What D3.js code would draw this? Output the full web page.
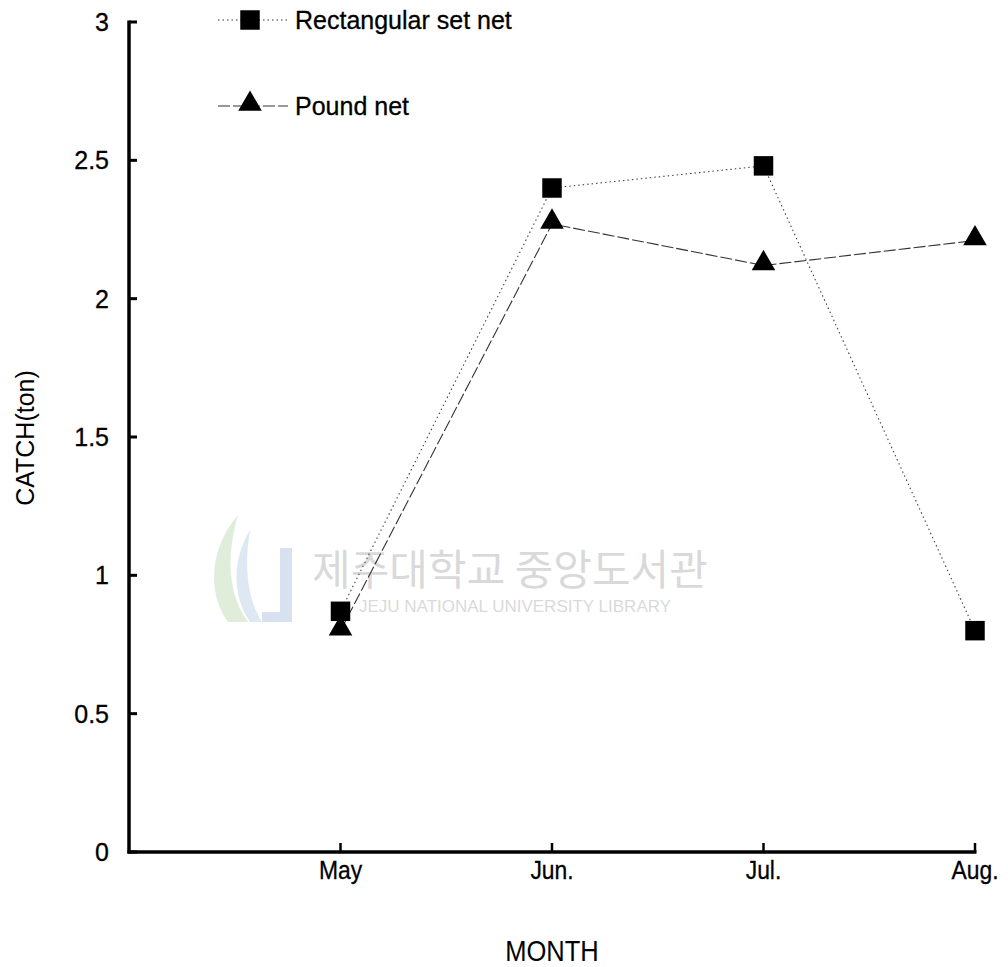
<!DOCTYPE html>
<html>
<head>
<meta charset="utf-8">
<script src="https://cdn.jsdelivr.net/npm/d3@7"></script>
<style>
  body { margin: 0; background: #fff; }
  text { font-family: "Liberation Sans", Arial, sans-serif; fill: #000; }
</style>
</head>
<body>
<script>
var months = ["May", "Jun.", "Jul.", "Aug."];
var rectangularSetNet = [0.87, 2.4, 2.48, 0.8];
var poundNet = [0.8, 2.27, 2.12, 2.21];
var yTicks = [0, 0.5, 1, 1.5, 2, 2.5, 3];

var width = 1008,
    height = 967;

var svg = d3.select("body").append("svg")
    .attr("width", width)
    .attr("height", height);

// categories sit on ticks 1..4, axis starts one step before May
var x = d3.scaleLinear().domain([0, 4]).range([129, 975]);
var y = d3.scaleLinear().domain([0, 3]).range([852, 22]);

// faint library watermark
var wm = svg.append("g").attr("opacity", 0.2);
wm.append("text")
    .attr("x", 510).attr("y", 585)
    .attr("text-anchor", "middle")
    .style("font-family", "'Noto Sans CJK KR', sans-serif")
    .style("font-size", "42px")
    .style("fill", "#444")
    .text("제주대학교 중앙도서관");
wm.append("text")
    .attr("x", 515).attr("y", 612)
    .attr("text-anchor", "middle")
    .style("font-size", "17px")
    .style("fill", "#444")
    .text("JEJU NATIONAL UNIVERSITY  LIBRARY");
wm.append("path")
    .attr("d", "M238,515 C212,545 205,590 228,622 L248,622 C225,590 228,550 238,515 Z")
    .style("fill", "#6aa84f");
wm.append("path")
    .attr("d", "M250,530 C232,560 232,595 250,622 L262,622 C245,595 245,560 250,530 Z")
    .style("fill", "#5a8fc8");
wm.append("path")
    .attr("d", "M280,548 L292,548 L292,622 L262,622 L262,612 L280,612 Z")
    .style("fill", "#3d6fb5");

// axes
svg.append("line")
    .attr("x1", x(0)).attr("x2", x(0))
    .attr("y1", y(3) - 1.5).attr("y2", y(0) + 1.5)
    .attr("stroke", "#000").attr("stroke-width", 3.5);
svg.append("line")
    .attr("x1", x(0) - 1.5).attr("x2", x(4) + 1.5)
    .attr("y1", y(0)).attr("y2", y(0))
    .attr("stroke", "#000").attr("stroke-width", 3.5);

svg.selectAll(".ytick")
    .data(yTicks)
    .enter().append("line")
    .attr("class", "ytick")
    .attr("x1", x(0)).attr("x2", x(0) + 8)
    .attr("y1", function (d) { return y(d); })
    .attr("y2", function (d) { return y(d); })
    .attr("stroke", "#000").attr("stroke-width", 3);

svg.selectAll(".ylab")
    .data(yTicks)
    .enter().append("text")
    .attr("class", "ylab")
    .attr("x", 109)
    .attr("y", function (d) { return y(d); })
    .attr("dy", "0.36em")
    .attr("text-anchor", "end")
    .style("font-size", "25px")
    .style("stroke", "#000").style("stroke-width", 0.3)
    .text(function (d) { return d; });

svg.selectAll(".xtick")
    .data(months)
    .enter().append("line")
    .attr("class", "xtick")
    .attr("x1", function (d, i) { return x(i + 1); })
    .attr("x2", function (d, i) { return x(i + 1); })
    .attr("y1", y(0)).attr("y2", y(0) - 9)
    .attr("stroke", "#000").attr("stroke-width", 2.5);

svg.selectAll(".xlab")
    .data(months)
    .enter().append("text")
    .attr("class", "xlab")
    .attr("transform", function (d, i) { return "translate(" + x(i + 1) + ",879) scale(0.88,1)"; })
    .attr("text-anchor", "middle")
    .style("font-size", "26px")
    .style("stroke", "#000").style("stroke-width", 0.3)
    .text(function (d) { return d; });

svg.append("text")
    .attr("transform", "translate(552,961) scale(0.88,1)")
    .attr("text-anchor", "middle")
    .style("font-size", "29px")
    .text("MONTH");

svg.append("text")
    .attr("transform", "translate(34,438) rotate(-90)")
    .attr("text-anchor", "middle")
    .style("font-size", "25px")
    .text("CATCH(ton)");

// series
var line = d3.line()
    .x(function (d, i) { return x(i + 1); })
    .y(function (d) { return y(d); });

svg.append("path")
    .datum(rectangularSetNet)
    .attr("d", line)
    .attr("fill", "none")
    .attr("stroke", "#444")
    .attr("stroke-width", 1.1)
    .attr("stroke-dasharray", "1.5,3");

svg.append("path")
    .datum(poundNet)
    .attr("d", line)
    .attr("fill", "none")
    .attr("stroke", "#333")
    .attr("stroke-width", 1.1)
    .attr("stroke-dasharray", "12,3");

var square = d3.symbol().type(d3.symbolSquare).size(380);
var triangle = d3.symbol().type(d3.symbolTriangle).size(240);

svg.selectAll(".pt-tri")
    .data(poundNet)
    .enter().append("path")
    .attr("class", "pt-tri")
    .attr("d", triangle)
    .attr("transform", function (d, i) { return "translate(" + x(i + 1) + "," + (y(d) - 2) + ")"; })
    .attr("fill", "#000");

svg.selectAll(".pt-sq")
    .data(rectangularSetNet)
    .enter().append("path")
    .attr("class", "pt-sq")
    .attr("d", square)
    .attr("transform", function (d, i) { return "translate(" + x(i + 1) + "," + y(d) + ")"; })
    .attr("fill", "#000");

// legend
var legend = svg.append("g");
var items = [
    { name: "Rectangular set net", dash: "1.5,3", sym: square, y: 20, dy: 0 },
    { name: "Pound net", dash: "12,3", sym: triangle, y: 106, dy: -2 }
];
items.forEach(function (d) {
    legend.append("line")
        .attr("x1", 218).attr("x2", 288)
        .attr("y1", d.y).attr("y2", d.y)
        .attr("stroke", "#333").attr("stroke-width", 1.1)
        .attr("stroke-dasharray", d.dash);
    legend.append("path")
        .attr("d", d.sym)
        .attr("transform", "translate(250," + (d.y + d.dy) + ")")
        .attr("fill", "#000");
    legend.append("text")
        .attr("x", 295).attr("y", d.y)
        .attr("dy", "0.36em")
        .style("font-size", "25px")
        .style("stroke", "#000").style("stroke-width", 0.3)
        .text(d.name);
});
</script>
</body>
</html>
